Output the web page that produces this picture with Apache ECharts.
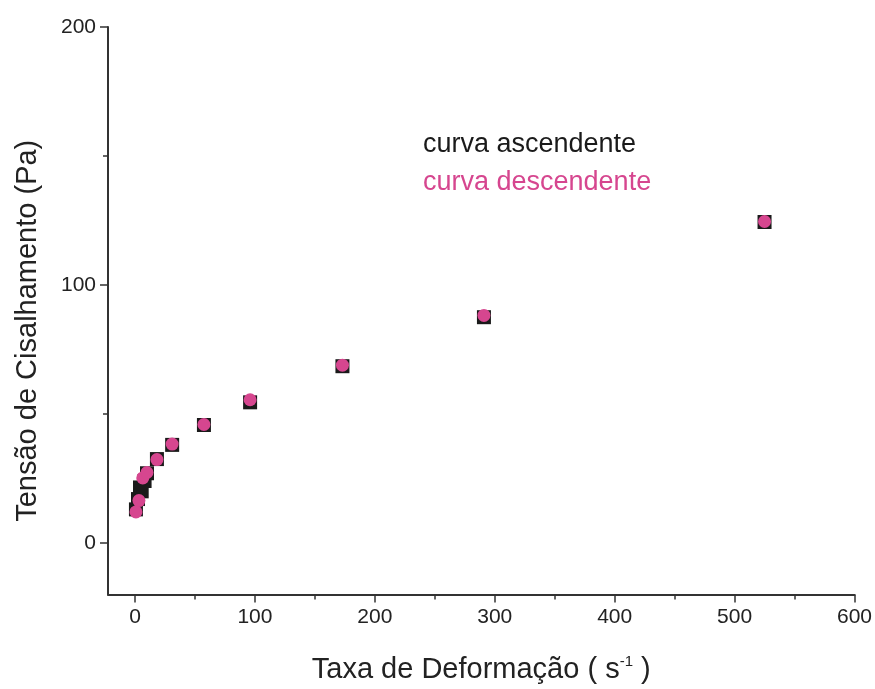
<!DOCTYPE html>
<html>
<head>
<meta charset="utf-8">
<script src="https://cdn.jsdelivr.net/npm/echarts@6/dist/echarts.min.js"></script>
<style>
  html, body { margin: 0; padding: 0; background: #fff; }
  #chart { width: 875px; height: 689px; }
</style>
</head>
<body>
<div id="chart"></div>
<script>
// taxa de deformação (s^-1), tensão (Pa)
const ascX = [0.8, 2.5, 4.2, 5.6, 8, 10, 18.3, 31, 57.5, 96, 173, 291, 525];
const ascY = [13, 17, 21.5, 20, 24, 27, 32.5, 38, 45.7, 54.5, 68.5, 87.5, 124.4];
const descX = [0.8, 3.3, 6.5, 10, 18.3, 31, 57.5, 96, 173, 291, 525];
const descY = [12, 16.4, 25.2, 27.3, 32.3, 38.3, 45.9, 55.5, 68.9, 88.2, 124.6];

const xLabels = [0, 100, 200, 300, 400, 500, 600];
const xMinor = [50, 150, 250, 350, 450, 550];
const yLabels = [0, 100, 200];
const yMinor = [50, 150];

const pairs = (xs, ys) => xs.map((x, i) => [x, ys[i]]);

const chart = echarts.init(document.getElementById('chart'));
const FONT = 'Liberation Sans, Arial, sans-serif';
const axisLine = { show: true, onZero: false, lineStyle: { color: '#333', width: 2 } };
const labelFont = { fontFamily: FONT, fontSize: 21, color: '#222' };

chart.setOption({
  animation: false,
  backgroundColor: '#fff',
  grid: { left: 108, right: 18, top: 27, bottom: 94 },
  legend: {
    orient: 'vertical',
    left: 418,
    top: 126,
    itemGap: 11,
    itemWidth: 0,
    itemHeight: 0,
    icon: 'rect',
    selectedMode: false,
    textStyle: { fontFamily: FONT, fontSize: 27, padding: [0, 0, 0, -5] },
    data: [
      { name: 'curva ascendente', textStyle: { color: '#1a1a1a' } },
      { name: 'curva descendente', textStyle: { color: '#d6468f' } }
    ]
  },
  xAxis: [
    {
      type: 'value', min: -22.5, max: 600,
      name: 'Taxa de Deformação ( {sup|s}{e|-1}{sup| )}',
      nameLocation: 'middle', nameGap: 60,
      nameTextStyle: {
        fontFamily: FONT, fontSize: 29, color: '#222',
        rich: {
          sup: { fontFamily: FONT, fontSize: 29, color: '#222' },
          e: { fontFamily: FONT, fontSize: 15, color: '#222', verticalAlign: 'top', padding: [0, 0, 15, 0] }
        }
      },
      axisLine: axisLine,
      axisTick: { show: true, customValues: xLabels, length: 8, lineStyle: { color: '#333', width: 1.5 } },
      axisLabel: Object.assign({ customValues: xLabels, margin: 12 }, labelFont),
      splitLine: { show: false }
    },
    {
      type: 'value', min: -22.5, max: 600, position: 'bottom',
      axisLine: { show: false, onZero: false },
      axisTick: { show: true, customValues: xMinor, length: 5, lineStyle: { color: '#333', width: 1.5 } },
      axisLabel: { show: false },
      splitLine: { show: false }
    }
  ],
  yAxis: [
    {
      type: 'value', min: -20, max: 200,
      name: 'Tensão de Cisalhamento (Pa)',
      nameLocation: 'middle', nameGap: 66,
      nameTextStyle: { fontFamily: FONT, fontSize: 29, color: '#222', padding: [0, 40, 0, 0] },
      axisLine: axisLine,
      axisTick: { show: true, customValues: yLabels, length: 8, lineStyle: { color: '#333', width: 1.5 } },
      axisLabel: Object.assign({ customValues: yLabels, margin: 12 }, labelFont),
      splitLine: { show: false }
    },
    {
      type: 'value', min: -20, max: 200, position: 'left',
      axisLine: { show: false, onZero: false },
      axisTick: { show: true, customValues: yMinor, length: 5, lineStyle: { color: '#333', width: 1.5 } },
      axisLabel: { show: false },
      splitLine: { show: false }
    }
  ],
  series: [
    {
      name: 'curva ascendente', type: 'scatter',
      symbol: 'rect', symbolSize: 14,
      itemStyle: { color: '#1a1a1a', opacity: 1 },
      data: pairs(ascX, ascY)
    },
    {
      name: 'curva descendente', type: 'scatter',
      symbol: 'circle', symbolSize: 13,
      itemStyle: { color: '#d6468f', opacity: 1 },
      data: pairs(descX, descY)
    }
  ]
});
</script>
</body>
</html>
